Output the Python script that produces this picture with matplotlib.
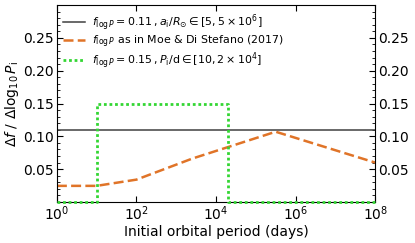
import numpy as np
import matplotlib
matplotlib.use("Agg")
import matplotlib.pyplot as plt
from matplotlib.ticker import MultipleLocator, LogLocator

# --- data ---
x_range = [1.0, 1e8]
flat_level = 0.11

# Moe & Di Stefano (2017) piecewise curve (logP, df/dlogP)
moe_logp = [0.0, 1.0, 2.0, 3.4, 5.5, 8.0]
moe_val = [0.0245, 0.0245, 0.034, 0.066, 0.107, 0.060]

# top-hat in period
box_edges = [1.0, 10.0, 10.0, 2e4, 2e4, 1e8]
box_vals = [0.0, 0.0, 0.15, 0.15, 0.0, 0.0]

fig = plt.figure(figsize=(4.15, 2.43), dpi=100)
ax = fig.add_axes([0.137, 0.169, 0.767, 0.81])

ax.plot(x_range, [flat_level, flat_level], color="#404040", lw=1.1,
        label=r"$f_{\log P} = 0.11\,,a_{\rm i}/R_{\odot} \in [5, 5\times10^6]$")
ax.plot(10 ** np.array(moe_logp), moe_val, color="#e07428", lw=1.8,
        ls=(0, (4, 1.7)), label=r"$f_{\log P}$ as in Moe & Di Stefano (2017)")
ax.plot(box_edges, box_vals, color="#33d633", lw=2.0, ls=(0, (1, 1)),
        label=r"$f_{\log P} = 0.15\,,P_{\rm i}/{\rm d} \in [10, 2\times10^4]$",
        clip_on=False, zorder=3)

ax.set_xscale("log")
ax.set_xlim(1, 1e8)
ax.set_ylim(0, 0.3)
ax.xaxis.set_major_locator(LogLocator(base=100, numticks=10))
ax.xaxis.set_minor_locator(plt.NullLocator())
ax.set_yticks([0.05, 0.10, 0.15, 0.20, 0.25])
ax.yaxis.set_minor_locator(MultipleLocator(0.01))
ax.tick_params(which="both", direction="in", top=True, right=True,
               labelright=True, labelsize=10, pad=2)
ax.tick_params(which="major", length=4)
ax.tick_params(which="minor", length=2)

ax.set_xlabel("Initial orbital period (days)", fontsize=10, labelpad=1)
ax.set_ylabel(r"$\Delta f\ /\ \Delta\log_{10}P_{\rm i}$", fontsize=10, labelpad=2)

ax.legend(loc="upper left", frameon=False, fontsize=7.9, handlelength=2.0,
          handletextpad=0.6, borderaxespad=0.2, labelspacing=0.05)

fig.savefig("out.png", dpi=100)
